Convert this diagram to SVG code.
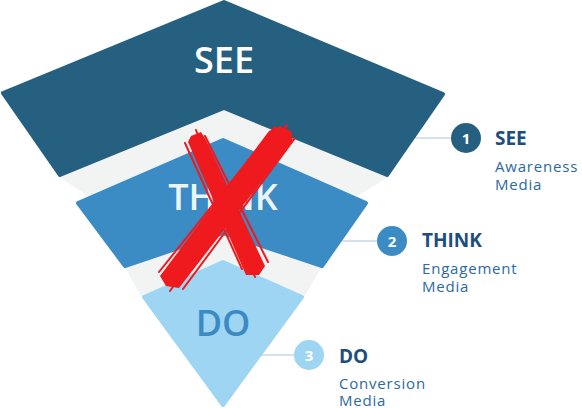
<svg xmlns="http://www.w3.org/2000/svg" width="582" height="408" viewBox="0 0 582 408">
<style>
.shape{stroke-width:4;stroke-linejoin:round}
.big{font-family:"Open Sans","Liberation Sans",sans-serif;font-weight:600;font-size:36px;text-anchor:middle}
.title{font-family:"Open Sans","Liberation Sans",sans-serif;font-weight:700;font-size:19px;fill:#1d4e7e}
.sub{font-family:"Open Sans","Liberation Sans",sans-serif;font-weight:400;font-size:15px;letter-spacing:0.8px;fill:#2d69a0}
.num{font-family:"Open Sans","Liberation Sans",sans-serif;font-weight:700;font-size:15px;fill:#ffffff;text-anchor:middle}
.conn{stroke:#c9d9e5;stroke-width:1.6;fill:none}
.x{fill:#ee1a1e}
.xs{stroke:#ee1a1e;fill:none;stroke-linecap:round}
</style>
<rect width="582" height="408" fill="#ffffff"/>
<g id="connectors">
<line class="conn" x1="400" y1="138" x2="455" y2="138"/>
<line class="conn" x1="330" y1="241" x2="380" y2="241"/>
<line class="conn" x1="255" y1="355" x2="298" y2="355"/>
</g>
<g id="bands">
<polygon fill="#f2f4f4" points="59,177 224,108 388,177 358,196 224,170 88,196"/>
<polygon fill="#f2f4f4" points="124,266 224,225 322,266 305,296 224,280 141,296"/>
</g>
<g id="see">
<polygon class="shape" fill="#256081" stroke="#256081" points="224,2 443,94 387,175 224,108 60,175 3,93"/>
<text class="big" x="224" y="73" fill="#ffffff">SEE</text>
</g>
<g id="think">
<polygon class="shape" fill="#3b8cc5" stroke="#3b8cc5" points="223,140 366,203 322,266 223,233 125,266 78,203"/>
<text class="big" x="223" y="210" fill="#ffffff" fill-opacity="0.93">THINK</text>
</g>
<g id="do">
<polygon class="shape" fill="#9dd5f2" stroke="#9dd5f2" points="223,262 302,297 223,405 144,297"/>
<text class="big" x="223" y="336" fill="#3b8ac3">DO</text>
</g>
<g id="cross">
<polygon class="x" points="201,132 206,140 265,266 259,275 246,275 188,142 191,136"/>
<polygon class="x" points="280,126 291,131 293,141 179,288 166,286 160,276 269,131"/>
<path class="xs" stroke-width="2" d="M196,130 L255,277 M185,143 L242,269 M205,136 L268,262 M287,125 L170,291 M295,138 L183,289 M275,127 L159,272"/>
</g>
<g id="label-1">
<circle cx="466" cy="138" r="15" fill="#256081"/>
<text class="num" x="466" y="143.5">1</text>
<text class="title" x="495" y="145">SEE</text>
<text class="sub" x="495" y="172">Awareness</text>
<text class="sub" x="495" y="190">Media</text>
</g>
<g id="label-2">
<circle cx="392" cy="241" r="15" fill="#3b8cc5"/>
<text class="num" x="392" y="246.5">2</text>
<text class="title" x="422" y="247">THINK</text>
<text class="sub" x="422" y="274">Engagement</text>
<text class="sub" x="422" y="292">Media</text>
</g>
<g id="label-3">
<circle cx="309" cy="355" r="15" fill="#9dd5f2"/>
<text class="num" x="309" y="360.5">3</text>
<text class="title" x="339" y="363">DO</text>
<text class="sub" x="339" y="389">Conversion</text>
<text class="sub" x="339" y="406">Media</text>
</g>
</svg>
